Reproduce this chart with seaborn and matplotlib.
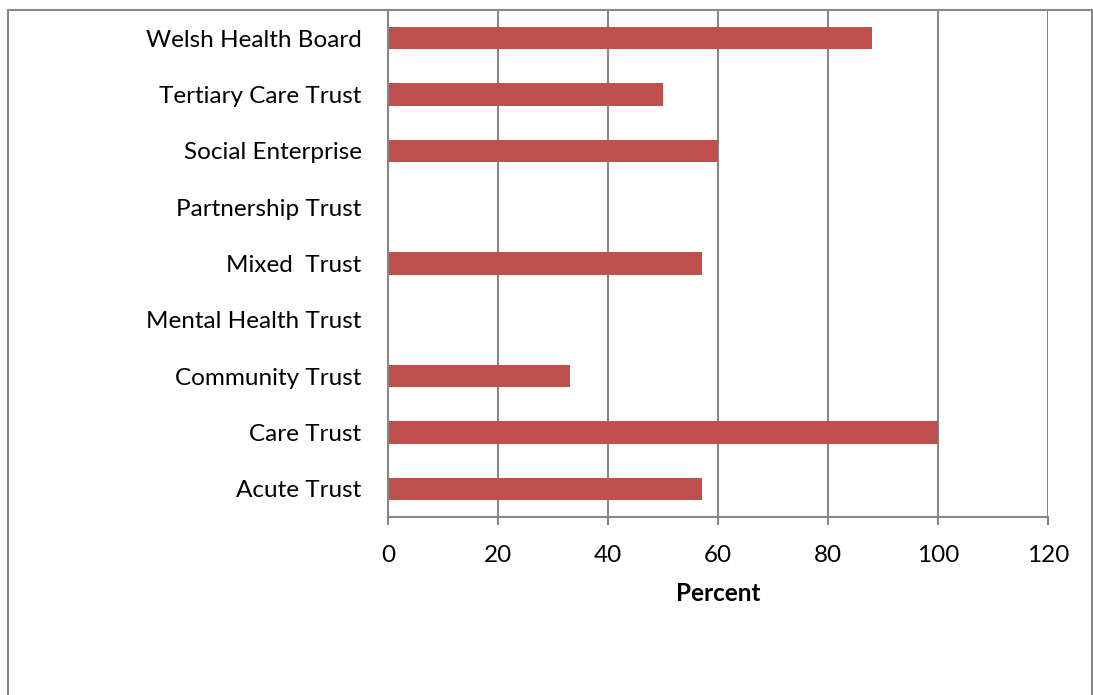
import matplotlib
matplotlib.use("Agg")
import matplotlib.pyplot as plt
from matplotlib.lines import Line2D
import seaborn as sns
import pandas as pd

# Share of organisations by type, in percent
categories = [
    "Welsh Health Board",
    "Tertiary Care Trust",
    "Social Enterprise",
    "Partnership Trust",
    "Mixed  Trust",
    "Mental Health Trust",
    "Community Trust",
    "Care Trust",
    "Acute Trust",
]
percent = [88, 50, 60, 0, 57, 0, 33, 100, 57]
x_ticks = [0, 20, 40, 60, 80, 100, 120]

df = pd.DataFrame({"Organisation": categories, "Percent": percent})

sns.set_theme(style="white")
plt.rcParams["font.family"] = ["Lato", "DejaVu Sans"]

GRAY = "#878787"
BAR = "#C0504D"
FS = 17.5

fig = plt.figure(figsize=(10.93, 6.95), dpi=100)
W, H = 1093, 695
ax = fig.add_axes([388 / W, 1 - 517 / H, (1048 - 388) / W, (517 - 10) / H])

sns.barplot(data=df, x="Percent", y="Organisation", order=categories,
            color=BAR, width=0.4, saturation=1, linewidth=0, ax=ax, zorder=3)

ax.set_xlim(0, 120)
ax.set_ylim(len(categories) - 0.5, -0.5)
ax.set_xticks(x_ticks)
ax.set_xticklabels([str(t) for t in x_ticks])

ax.grid(axis="x", color=GRAY, linewidth=1.5, zorder=0)
ax.grid(axis="y", visible=False)
ax.set_axisbelow(True)

for side in ("top", "right"):
    ax.spines[side].set_visible(False)
for side in ("left", "bottom"):
    ax.spines[side].set_color(GRAY)
    ax.spines[side].set_linewidth(1.5)
    ax.spines[side].set_zorder(5)

ax.tick_params(axis="x", which="major", direction="out", length=6, width=1.5,
               color=GRAY, pad=14, labelsize=FS, labelcolor="black",
               bottom=True)
ax.tick_params(axis="y", length=0, pad=19, labelsize=FS, labelcolor="black")

ax.set_ylabel("")
ax.set_xlabel("Percent", fontsize=FS, fontweight="bold", color="black",
              labelpad=12)

# Outer chart frame
def px(x, y):
    return (x / W, 1 - y / H)

frame = [((8, 10), (8, 700)), ((8, 10), (1092, 10)), ((1092, 10), (1092, 700))]
for (a, b) in frame:
    (x0, y0), (x1, y1) = px(*a), px(*b)
    fig.add_artist(Line2D([x0, x1], [y0, y1], color=GRAY, linewidth=1.5,
                          transform=fig.transFigure))

fig.savefig("out.png", dpi=100)
